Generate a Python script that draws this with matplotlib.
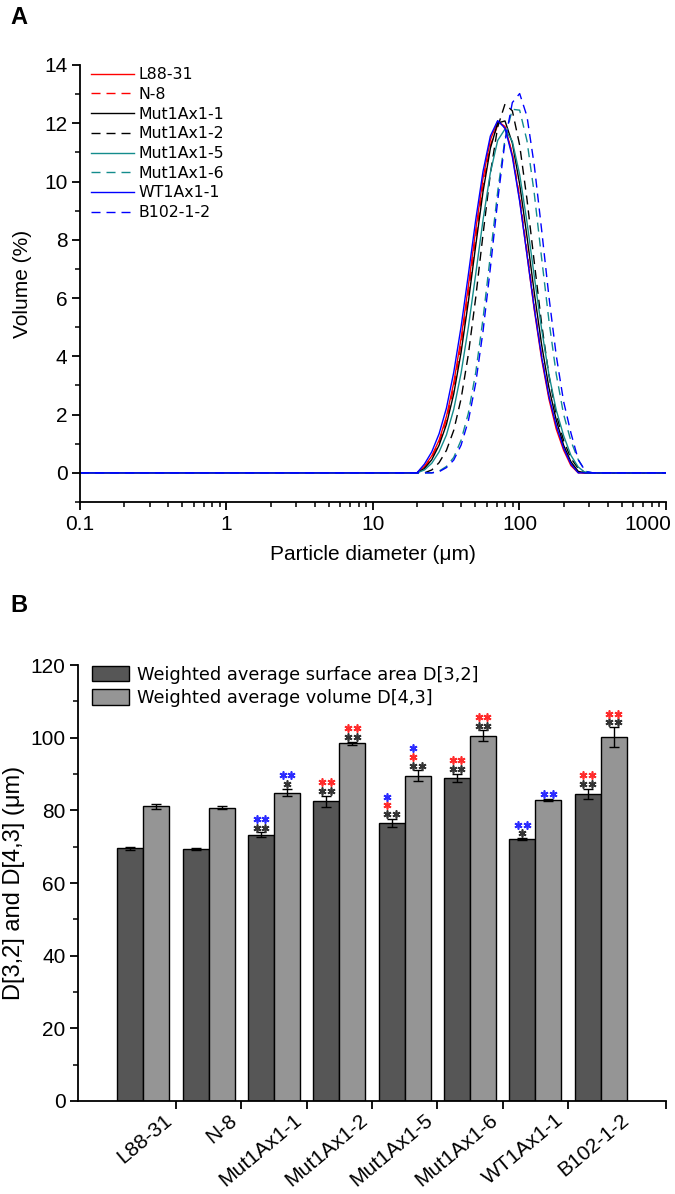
import numpy as np
import matplotlib
matplotlib.use('Agg')
import matplotlib.pyplot as plt
import matplotlib.transforms as mtransforms
from matplotlib.ticker import FixedLocator, NullFormatter, LogLocator, FuncFormatter
from matplotlib.patches import Patch

plt.rcParams['font.family'] = ['Liberation Sans', 'DejaVu Sans']

# ---------------- Panel A data ----------------
diameter_um = [0.1, 17.78, 19.95, 22.44, 25.18, 28.25, 31.70, 35.57, 39.91, 44.77,
               50.24, 56.37, 63.25, 70.96, 79.62, 89.34, 100.24, 112.47, 126.19,
               141.59, 158.87, 178.25, 200.0, 224.4, 251.8, 282.5, 317.0, 355.7, 1000]

vol_L88_31 = [0, 0, 0, 0.22, 0.58, 1.12, 1.93, 3.09, 4.61, 6.42, 8.34, 10.11, 11.43, 12.07,
              11.89, 10.93, 9.37, 7.49, 5.59, 3.90, 2.53, 1.50, 0.78, 0.25, 0, 0, 0, 0, 0]
vol_N_8 = [0, 0, 0, 0.20, 0.53, 1.05, 1.82, 2.93, 4.41, 6.18, 8.09, 9.87, 11.23, 11.94,
           11.84, 10.96, 9.47, 7.62, 5.73, 4.02, 2.63, 1.58, 0.85, 0.30, 0, 0, 0, 0, 0]
vol_Mut1Ax1_1 = [0, 0, 0, 0.15, 0.45, 0.95, 1.66, 2.71, 4.13, 5.88, 7.80, 9.65, 11.14, 12.01,
                 12.08, 11.32, 9.91, 8.11, 6.18, 4.40, 2.92, 1.81, 0.95, 0.38, 0.05, 0, 0, 0, 0]
vol_Mut1Ax1_2 = [0, 0, 0, 0, 0.10, 0.35, 0.77, 1.46, 2.54, 4.07, 6.01, 8.19, 10.27, 11.87,
                 12.66, 12.43, 11.25, 9.39, 7.22, 5.11, 3.34, 2.01, 1.11, 0.50, 0.15, 0, 0, 0, 0]
vol_Mut1Ax1_5 = [0, 0, 0, 0.10, 0.33, 0.72, 1.30, 2.18, 3.42, 5.00, 6.82, 8.68, 10.30, 11.41,
                 11.80, 11.38, 10.24, 8.61, 6.74, 4.93, 3.37, 2.15, 1.28, 0.60, 0.20, 0, 0, 0, 0]
vol_Mut1Ax1_6 = [0, 0, 0, 0, 0, 0.06, 0.22, 0.53, 1.12, 2.05, 3.44, 5.29, 7.46, 9.65,
                 11.47, 12.48, 12.45, 11.40, 9.58, 7.37, 5.22, 3.38, 2.01, 1.09, 0.45, 0.05, 0, 0, 0]
vol_WT1Ax1_1 = [0, 0, 0, 0.30, 0.72, 1.34, 2.22, 3.45, 5.01, 6.81, 8.68, 10.35, 11.56, 12.09,
                11.83, 10.85, 9.32, 7.49, 5.64, 3.98, 2.62, 1.62, 0.85, 0.30, 0, 0, 0, 0, 0]
vol_B102_1_2 = [0, 0, 0, 0, 0, 0.04, 0.18, 0.44, 0.95, 1.79, 3.08, 4.86, 7.03, 9.34,
                11.38, 12.71, 13.02, 12.24, 10.55, 8.34, 6.04, 4.02, 2.45, 1.37, 0.45, 0.05, 0, 0, 0]

curve_labels = ['L88-31', 'N-8', 'Mut1Ax1-1', 'Mut1Ax1-2', 'Mut1Ax1-5', 'Mut1Ax1-6',
                'WT1Ax1-1', 'B102-1-2']
curve_values = [vol_L88_31, vol_N_8, vol_Mut1Ax1_1, vol_Mut1Ax1_2, vol_Mut1Ax1_5,
                vol_Mut1Ax1_6, vol_WT1Ax1_1, vol_B102_1_2]
x_ticks_a = [0.1, 1, 10, 100, 1000]
x_ticklabels_a = ['0.1', '1', '10', '100', '1000']

# ---------------- Panel B data ----------------
categories = ['L88-31', 'N-8', 'Mut1Ax1-1', 'Mut1Ax1-2', 'Mut1Ax1-5', 'Mut1Ax1-6',
              'WT1Ax1-1', 'B102-1-2']
d32 = [69.6, 69.4, 73.3, 82.5, 76.5, 88.9, 72.1, 84.5]
d32_err = [0.4, 0.3, 0.6, 1.5, 1.2, 1.2, 0.3, 1.4]
d43 = [81.1, 80.7, 84.9, 98.4, 89.5, 100.5, 82.8, 100.2]
d43_err = [0.6, 0.4, 1.0, 0.5, 1.5, 1.5, 0.3, 2.75]

# significance marks, bottom row first: (number of stars, colour key)
sig_d32 = [[], [],
           [(2, 'k'), (2, 'b')],
           [(2, 'k'), (2, 'r')],
           [(2, 'k'), (1, 'r'), (1, 'b')],
           [(2, 'k'), (2, 'r')],
           [(1, 'k'), (2, 'b')],
           [(2, 'k'), (2, 'r')]]
sig_d43 = [[], [],
           [(1, 'k'), (2, 'b')],
           [(2, 'k'), (2, 'r')],
           [(2, 'k'), (1, 'r'), (1, 'b')],
           [(2, 'k'), (2, 'r')],
           [(2, 'b')],
           [(2, 'k'), (2, 'r')]]

# ---------------- styles ----------------
line_colors = ['#ff0000', '#ff0000', '#000000', '#000000', '#148c8c', '#148c8c', '#0000ff', '#0000ff']
dash = (0, (6.5, 4.3))
line_styles = ['-', dash, '-', dash, '-', dash, '-', dash]
star_colors = {'k': '#333333', 'r': '#ff2b2b', 'b': '#2b2bff'}

fig = plt.figure(figsize=(6.75, 11.94), dpi=100)
W, H = 675.0, 1194.0

# ================= Panel A =================
ax1 = fig.add_axes([80 / W, 1 - 502 / H, 586 / W, 437 / H])
for lab, vals, c, ls in zip(curve_labels, curve_values, line_colors, line_styles):
    ax1.plot(diameter_um, vals, color=c, linestyle=ls, lw=1.0, label=lab)
ax1.set_xscale('log')
ax1.set_xlim(0.1, 1000)
ax1.set_ylim(-1, 14)
ax1.yaxis.set_major_locator(FixedLocator([0, 2, 4, 6, 8, 10, 12, 14]))
ax1.yaxis.set_minor_locator(FixedLocator([-1, 1, 3, 5, 7, 9, 11, 13]))
ax1.xaxis.set_major_locator(FixedLocator(x_ticks_a))
ax1.xaxis.set_minor_locator(LogLocator(base=10, subs=np.arange(2, 10)))
ax1.xaxis.set_minor_formatter(NullFormatter())
# last decade label is drawn separately so that it stays inside the picture
ax1.set_xticklabels(x_ticklabels_a[:-1] + [''])
for s in ['top', 'right']:
    ax1.spines[s].set_visible(False)
for s in ['left', 'bottom']:
    ax1.spines[s].set_linewidth(1.3)
ax1.tick_params(which='major', direction='out', length=6, width=1.3, labelsize=15, pad=3)
ax1.tick_params(which='minor', direction='out', length=3.5, width=1.1)
ax1.annotate(x_ticklabels_a[-1], xy=(x_ticks_a[-1], 0), xycoords=('data', 'axes fraction'),
             xytext=(-13, -9), textcoords='offset points', ha='center', va='top',
             fontsize=15, annotation_clip=False)
ax1.set_xlabel('Particle diameter (\u03bcm)', fontsize=15, labelpad=8)
ax1.set_ylabel('Volume (%)', fontsize=15, labelpad=9)
ax1.legend(frameon=False, loc='upper left', bbox_to_anchor=(0.0, 1.02),
           prop={'family': 'DejaVu Sans', 'size': 11.3},
           handlelength=2.75, handletextpad=0.3, labelspacing=0.3, borderaxespad=0.3)

# ================= Panel B =================
ax2 = fig.add_axes([78 / W, 1 - 1101 / H, 588 / W, 436 / H])
x = np.arange(1, len(categories) + 1)
w = 0.4
ekw = dict(elinewidth=1.0, capthick=1.0, ecolor='black')
ax2.bar(x - w / 2, d32, w, color='#565656', edgecolor='black', linewidth=1.0,
        yerr=d32_err, capsize=3.6, error_kw=ekw)
ax2.bar(x + w / 2, d43, w, color='#959595', edgecolor='black', linewidth=1.0,
        yerr=d43_err, capsize=3.6, error_kw=ekw)
ax2.set_xlim(0, 9)
ax2.set_ylim(0, 120)
ax2.yaxis.set_major_locator(FixedLocator([0, 20, 40, 60, 80, 100, 120]))
ax2.yaxis.set_minor_locator(FixedLocator([10, 30, 50, 70, 90, 110]))
ax2.set_xticks(list(np.arange(1.5, 8.0, 1.0)) + [9])
ax2.set_xticklabels([])
for s in ['top', 'right']:
    ax2.spines[s].set_visible(False)
for s in ['left', 'bottom']:
    ax2.spines[s].set_linewidth(1.3)
ax2.tick_params(which='major', direction='out', length=6, width=1.3, labelsize=15, pad=3)
ax2.tick_params(which='minor', direction='out', length=3.5, width=1.1)
ax2.set_ylabel('D[3,2] and D[4,3] (\u03bcm)', fontsize=17, labelpad=4)

for xi, lab in zip(x, categories):
    ax2.text(xi + 0.30, -2.6, lab, rotation=40, ha='right', va='top',
             rotation_mode='anchor', fontsize=15, clip_on=False)

# significance stars drawn as asterisk markers
px2pt = 72.0 / 100.0
star_dx = 4.3 * px2pt       # half spacing of a star pair, points
row0 = 4.8 * px2pt
row_step = 8.6 * px2pt


def draw_stars(xc, ytop, rows):
    for r, (n, ck) in enumerate(rows):
        if n == 2:
            dxs = [-star_dx, star_dx]
        elif len(rows) == 3:
            dxs = [-star_dx]
        else:
            dxs = [0.0]
        for dx in dxs:
            tr = mtransforms.offset_copy(ax2.transData, fig=fig, x=dx,
                                         y=row0 + r * row_step, units='points')
            ax2.plot([xc], [ytop], transform=tr, marker=(6, 2, 0), markersize=5.8,
                     markeredgewidth=1.2, color=star_colors[ck], linestyle='none',
                     clip_on=False)


for i in range(len(categories)):
    draw_stars(x[i] - w / 2, d32[i] + d32_err[i], sig_d32[i])
    draw_stars(x[i] + w / 2, d43[i] + d43_err[i], sig_d43[i])

handles = [Patch(facecolor='#565656', edgecolor='black', linewidth=1.0),
           Patch(facecolor='#959595', edgecolor='black', linewidth=1.0)]
ax2.legend(handles, ['Weighted average surface area D[3,2]', 'Weighted average volume D[4,3]'],
           frameon=False, loc='upper left', bbox_to_anchor=(0.012, 1.015),
           prop={'family': 'DejaVu Sans', 'size': 12.8},
           handlelength=2.05, handleheight=1.0, handletextpad=0.45, labelspacing=0.3,
           borderaxespad=0.0)

fig.text(10 / W, 1 - 18 / H, 'A', fontsize=17, fontweight='bold', va='center', ha='left')
fig.text(10 / W, 1 - 605 / H, 'B', fontsize=17, fontweight='bold', va='center', ha='left')

fig.savefig('out.png', dpi=100)
